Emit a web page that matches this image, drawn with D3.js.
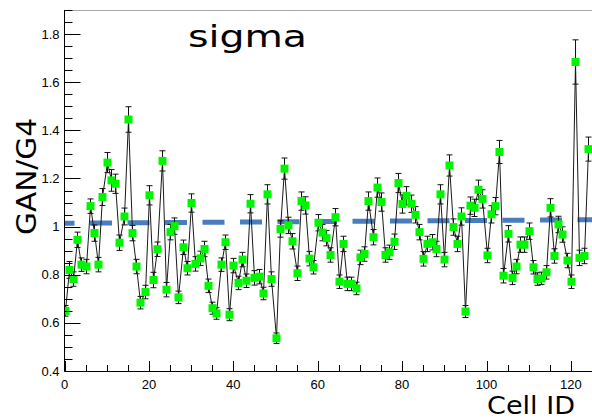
<!DOCTYPE html>
<html>
<head>
<meta charset="utf-8">
<script src="https://cdn.jsdelivr.net/npm/d3@7"></script>
<style>
  html, body { margin: 0; padding: 0; background: #fff; }
  svg { display: block; }
</style>
</head>
<body>
<svg id="chart" width="592" height="420"></svg>
<script>
// ---- data ----
const cellIds = d3.range(0, 125);
const ratioValues = [
  0.650, 0.820, 0.782, 0.945, 0.842, 0.834, 1.085, 0.973, 0.842, 1.123,
  1.266, 1.192, 1.178, 0.933, 1.042, 1.445, 0.973, 0.834, 0.684, 0.728,
  1.130, 0.778, 0.906, 1.273, 0.738, 0.977, 1.002, 0.706, 0.914, 0.827,
  1.098, 0.845, 0.868, 0.907, 0.754, 0.661, 0.639, 0.842, 0.935, 0.634,
  0.838, 0.766, 0.863, 0.775, 1.095, 0.787, 0.792, 0.722, 1.134, 0.782,
  0.536, 0.990, 1.241, 1.005, 0.939, 0.806, 1.106, 1.088, 0.867, 0.831,
  1.016, 0.975, 0.952, 0.882, 1.039, 0.771, 0.928, 0.762, 0.762, 0.743,
  0.872, 0.886, 1.106, 0.956, 1.162, 1.102, 0.882, 0.893, 0.937, 1.181,
  1.094, 1.128, 1.095, 1.049, 0.977, 0.866, 0.928, 0.935, 0.907, 1.134,
  0.863, 1.254, 0.998, 0.928, 1.042, 0.647, 1.087, 1.078, 1.153, 1.115,
  0.880, 1.051, 1.085, 1.310, 0.796, 0.970, 0.787, 0.834, 0.925, 0.925,
  0.981, 0.831, 0.782, 0.785, 0.810, 1.078, 0.878, 1.009, 0.967, 0.859,
  0.771, 1.684, 0.870, 0.878, 1.322
];
const ratioErrors = [
  0.022, 0.035, 0.030, 0.032, 0.028, 0.030, 0.030, 0.034, 0.030, 0.035,
  0.042, 0.045, 0.040, 0.032, 0.035, 0.053, 0.032, 0.030, 0.026, 0.028,
  0.040, 0.032, 0.030, 0.042, 0.030, 0.032, 0.034, 0.026, 0.030, 0.028,
  0.038, 0.030, 0.030, 0.032, 0.028, 0.025, 0.024, 0.028, 0.030, 0.025,
  0.030, 0.028, 0.030, 0.028, 0.038, 0.030, 0.030, 0.026, 0.040, 0.030,
  0.022, 0.034, 0.044, 0.034, 0.032, 0.030, 0.038, 0.036, 0.030, 0.028,
  0.034, 0.034, 0.032, 0.030, 0.036, 0.028, 0.032, 0.028, 0.028, 0.026,
  0.030, 0.030, 0.038, 0.032, 0.040, 0.038, 0.030, 0.030, 0.032, 0.040,
  0.038, 0.038, 0.036, 0.034, 0.032, 0.030, 0.032, 0.032, 0.032, 0.040,
  0.030, 0.044, 0.034, 0.032, 0.036, 0.025, 0.036, 0.036, 0.040, 0.038,
  0.030, 0.036, 0.036, 0.048, 0.030, 0.034, 0.028, 0.030, 0.032, 0.032,
  0.034, 0.028, 0.026, 0.026, 0.028, 0.038, 0.030, 0.034, 0.032, 0.030,
  0.028, 0.092, 0.032, 0.032, 0.050
];
// straight fit line (two end points: cell, value)
const fitCells = [0, 128];
const fitValues = [1.014, 1.029];
const xTicks = [0, 20, 40, 60, 80, 100, 120];
const yTicks = [0.4, 0.6, 0.8, 1, 1.2, 1.4, 1.6, 1.8];
const titleText = "sigma";
const xTitle = "Cell ID";
const yTitle = "GAN/G4";

// ---- layout ----
const svg = d3.select("#chart");
const padLeft = 64.5, padTop = 10, padBottom = 371;
const pxPerCell = 4.22;
const x = d3.scaleLinear().domain([0, 128]).range([padLeft, padLeft + 128 * pxPerCell]);
const y = d3.scaleLinear().domain([0.4, 1.9]).range([padBottom, padTop]);

const defs = svg.append("defs");
defs.append("clipPath").attr("id", "plotclip")
  .append("rect").attr("x", padLeft).attr("y", padTop).attr("width", 600).attr("height", padBottom - padTop);

// frame top (gray)
svg.append("line").attr("x1", padLeft).attr("x2", 592).attr("y1", padTop + 0.5).attr("y2", padTop + 0.5)
  .attr("stroke", "#a8a8a8").attr("stroke-width", 1);

const plot = svg.append("g").attr("clip-path", "url(#plotclip)");

// fit line (dashed blue)
const fitData = fitCells.map((c, i) => [c, fitValues[i]]);
plot.append("path")
  .attr("d", d3.line().x(d => x(d[0])).y(d => y(d[1]))(fitData))
  .attr("fill", "none")
  .attr("stroke", "#4a7dbd")
  .attr("stroke-width", 5)
  .attr("stroke-dasharray", "22 15.5")
  .attr("stroke-dashoffset", 12);

const pts = cellIds.map((c, i) => ({ c, v: ratioValues[i], e: ratioErrors[i] }));

// error bars
const eb = plot.append("g").attr("stroke", "#111").attr("stroke-width", 1);
pts.forEach(p => {
  const cx = Math.round(x(p.c)) + 0.5;
  eb.append("line").attr("x1", cx).attr("x2", cx).attr("y1", y(p.v + p.e)).attr("y2", y(p.v - p.e));
  eb.append("line").attr("x1", cx - 3).attr("x2", cx + 3).attr("y1", y(p.v + p.e)).attr("y2", y(p.v + p.e));
  eb.append("line").attr("x1", cx - 3).attr("x2", cx + 3).attr("y1", y(p.v - p.e)).attr("y2", y(p.v - p.e));
});

// connecting line
plot.append("path")
  .attr("d", d3.line().x(d => Math.round(x(d.c)) + 0.5).y(d => y(d.v))(pts))
  .attr("fill", "none")
  .attr("stroke", "#1a1a1a")
  .attr("stroke-width", 1);

// markers
plot.append("g").selectAll("rect").data(pts).join("rect")
  .attr("x", d => Math.round(x(d.c)) + 0.5 - 4)
  .attr("y", d => y(d.v) - 4)
  .attr("width", 8).attr("height", 8)
  .attr("fill", "#00f500");

// ---- axes ----
const axisFont = "'Liberation Sans', Arial, sans-serif";
// Y axis
const yAxis = svg.append("g");
yAxis.append("line").attr("x1", padLeft).attr("x2", padLeft).attr("y1", padTop).attr("y2", padBottom + 0.5)
  .attr("stroke", "#000").attr("stroke-width", 1);
const yMinor = d3.range(0.4, 1.9001, 0.05);
yMinor.forEach(v => {
  const isMajor = yTicks.some(t => Math.abs(t - v) < 1e-6);
  const yy = Math.round(y(v)) + 0.5;
  yAxis.append("line").attr("x1", padLeft).attr("x2", padLeft + (isMajor ? 16 : 8))
    .attr("y1", yy).attr("y2", yy).attr("stroke", "#000").attr("stroke-width", 1);
});
yAxis.selectAll("text").data(yTicks).join("text")
  .attr("x", 59.5).attr("y", d => y(d) + 4.5)
  .attr("text-anchor", "end")
  .attr("font-family", axisFont).attr("font-size", 13)
  .text(d => d3.format("")(d));

// X axis
const xAxis = svg.append("g");
xAxis.append("line").attr("x1", padLeft).attr("x2", 592).attr("y1", padBottom + 0.5).attr("y2", padBottom + 0.5)
  .attr("stroke", "#000").attr("stroke-width", 1);
d3.range(0, 130, 5).forEach(c => {
  const isMajor = xTicks.includes(c);
  const xx = Math.round(x(c)) + 0.5;
  if (xx > 592) return;
  xAxis.append("line").attr("x1", xx).attr("x2", xx)
    .attr("y1", padBottom).attr("y2", padBottom - (isMajor ? 10 : 6))
    .attr("stroke", "#000").attr("stroke-width", 1);
});
xAxis.selectAll("text").data(xTicks).join("text")
  .attr("x", d => x(d)).attr("y", 388.5)
  .attr("text-anchor", "middle")
  .attr("font-family", axisFont).attr("font-size", 13)
  .text(d => d);

// ---- titles ----
const titleFont = "'DejaVu Sans', sans-serif";
svg.append("text").attr("x", 188).attr("y", 47)
  .attr("font-family", titleFont).attr("font-size", 31)
  .attr("textLength", 119).attr("lengthAdjust", "spacingAndGlyphs")
  .text(titleText);
svg.append("text").attr("x", 575).attr("y", 414)
  .attr("text-anchor", "end")
  .attr("font-family", titleFont).attr("font-size", 25)
  .attr("textLength", 88).attr("lengthAdjust", "spacingAndGlyphs")
  .text(xTitle);
svg.append("text")
  .attr("transform", "translate(35.5,118) rotate(-90)")
  .attr("text-anchor", "end")
  .attr("font-family", titleFont).attr("font-size", 27)
  .attr("textLength", 117).attr("lengthAdjust", "spacingAndGlyphs")
  .text(yTitle);
</script>
</body>
</html>
